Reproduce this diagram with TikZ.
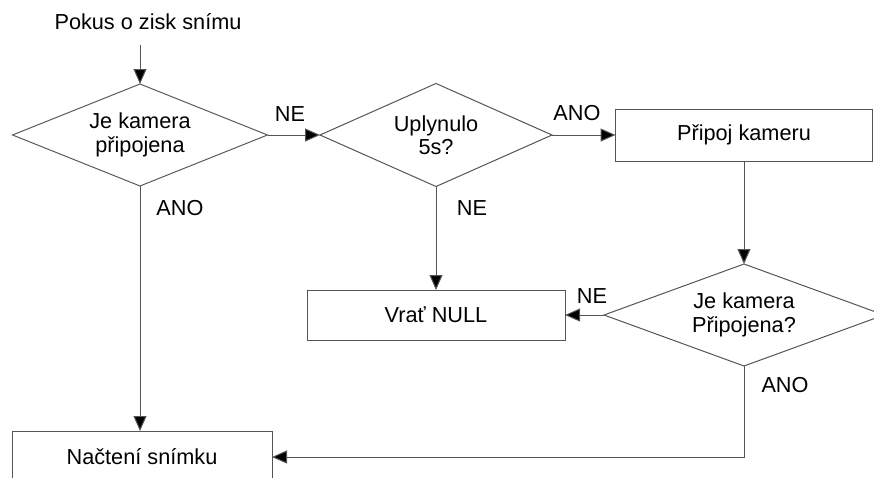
\documentclass[tikz,border=0pt]{standalone}
\usepackage{fontspec}
\setmainfont{Liberation Sans}
\usetikzlibrary{shapes.geometric,arrows.meta}
\definecolor{linegray}{RGB}{85,85,85}
\begin{document}
\begin{tikzpicture}[x=1pt,y=-1pt,
  font=\fontsize{21.7}{23.5}\selectfont,
  every node/.style={text=black},
  decision/.style={draw=linegray,line width=1pt,shape=diamond,inner sep=0pt,
    outer sep=0pt},
  caption/.style={align=center,inner sep=0pt},
  process/.style={draw=linegray,line width=1pt,rectangle,inner sep=0pt,
    outer sep=0pt,align=center},
  flow/.style={draw=linegray,line width=1pt,
    -{Triangle[length=15pt,width=13pt,fill=black]}},
  lbl/.style={inner sep=0pt}]
\useasboundingbox (0,0) rectangle (874,477);

% entry point
\node[lbl] (title) at (148,22) {Pokus o zisk snímu};
\coordinate (entry) at (140,45);

% decisions (outline sized directly, caption placed at the centre)
\node[decision,minimum width=255pt,minimum height=102pt] (d1) at (140,135) {};
\node[caption] at (d1.center) {Je kamera\\připojena};
\node[decision,minimum width=232pt,minimum height=103pt] (d2) at (436,135) {};
\node[caption] at (d2.center) {Uplynulo\\5s?};
\node[decision,minimum width=280pt,minimum height=102pt] (d3) at (744,315) {};
\node[caption] at (d3.center) {Je kamera\\Připojena?};

% actions
\node[process,minimum width=257pt,minimum height=52pt] (connect) at (744,135)
  {Připoj kameru};
\node[process,minimum width=258pt,minimum height=50pt] (null) at (436,315)
  {Vrať NULL};
\node[process,minimum width=260pt,minimum height=52pt] (load) at (142,457)
  {Načtení snímku};

% connectors
\draw[flow] (entry) -- (d1.north);
\draw[flow] (d1.east) -- (d2.west);
\draw[flow] (d1.south) -- (load.north -| d1.south);
\draw[flow] (d2.east) -- (connect.west);
\draw[flow] (d2.south) -- (null.north);
\draw[flow] (connect.south) -- (d3.north);
\draw[flow] (d3.west) -- (null.east);
\draw[flow] (d3.south) |- (load.east);

% branch labels
\node[lbl] at (290,114) {NE};
\node[lbl] at (180,208) {ANO};
\node[lbl] at (577,113) {ANO};
\node[lbl] at (472,208) {NE};
\node[lbl] at (592,296) {NE};
\node[lbl] at (785,385) {ANO};
\end{tikzpicture}
\end{document}
